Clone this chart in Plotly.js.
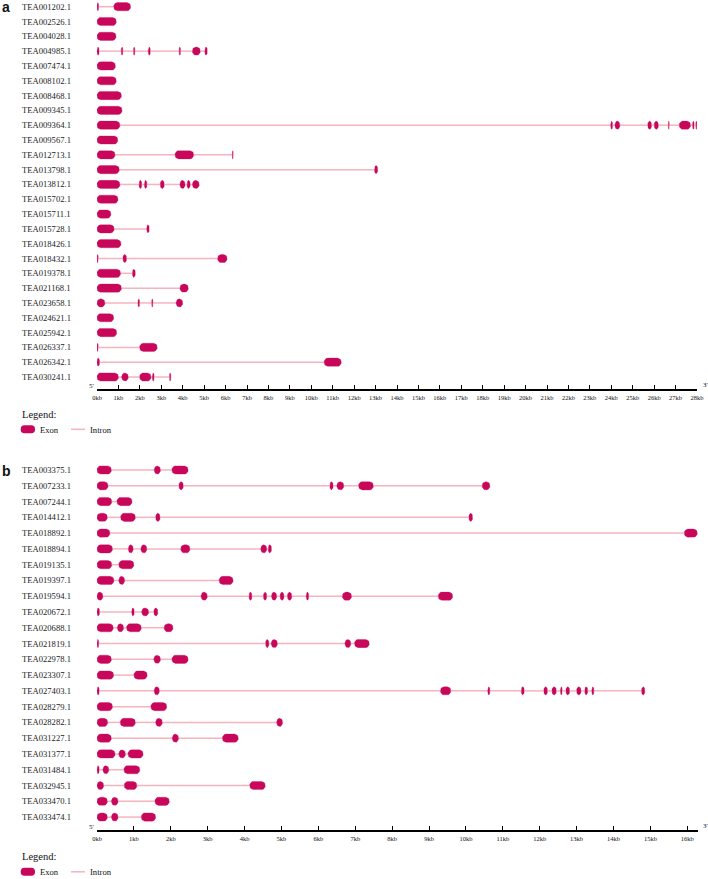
<!DOCTYPE html>
<html><head><meta charset="utf-8">
<script src="https://cdn.plot.ly/plotly-3.0.1.min.js"></script>
<style>html,body{margin:0;padding:0;background:#fff}</style>
</head><body><div id="chart" style="width:708px;height:879px"></div>
<script>
// ---------------- DATA ----------------
const genesA = ['TEA001202.1','TEA002526.1','TEA004028.1','TEA004985.1','TEA007474.1','TEA008102.1','TEA008468.1','TEA009345.1','TEA009364.1','TEA009567.1','TEA012713.1','TEA013798.1','TEA013812.1','TEA015702.1','TEA015711.1','TEA015728.1','TEA018426.1','TEA018432.1','TEA019378.1','TEA021168.1','TEA023658.1','TEA024621.1','TEA025942.1','TEA026337.1','TEA026342.1','TEA030241.1'];
// exon [start, end] in kb
const exonsA = [
  [[0,0.08],[0.78,1.57]],
  [[0,0.9]],
  [[0,0.89]],
  [[0,0.1],[1.13,1.21],[1.70,1.77],[2.39,2.49],[3.83,3.9],[4.45,4.82],[5.03,5.15]],
  [[0,0.86]],
  [[0,0.9]],
  [[0,1.14]],
  [[0,1.17]],
  [[0,1.07],[23.97,24.06],[24.17,24.4],[25.7,25.88],[26.0,26.2],[26.66,26.71],[27.17,27.7],[27.79,27.87],[27.94,28.0]],
  [[0,0.97]],
  [[0,0.84],[3.64,4.51],[6.31,6.36]],
  [[0,1.04],[12.95,13.1]],
  [[0,1.07],[1.96,2.09],[2.21,2.33],[2.95,3.14],[3.87,4.11],[4.2,4.35],[4.45,4.77]],
  [[0,0.98]],
  [[0,0.65]],
  [[0,0.8],[2.32,2.44]],
  [[0,1.12]],
  [[0,0.06],[1.21,1.38],[5.63,6.07]],
  [[0,1.1],[1.65,1.79]],
  [[0,1.14],[3.87,4.26]],
  [[0,0.37],[1.91,1.99],[2.55,2.61],[3.69,4.0]],
  [[0,0.78]],
  [[0,0.92]],
  [[0,0.06],[1.99,2.81]],
  [[0,0.12],[10.6,11.4]],
  [[0,1.0],[1.15,1.46],[1.99,2.52],[2.58,2.67],[3.38,3.45]]
];
const genesB = ['TEA003375.1','TEA007233.1','TEA007244.1','TEA014412.1','TEA018892.1','TEA018894.1','TEA019135.1','TEA019397.1','TEA019594.1','TEA020672.1','TEA020688.1','TEA021819.1','TEA022978.1','TEA023307.1','TEA027403.1','TEA028279.1','TEA028282.1','TEA031227.1','TEA031377.1','TEA031484.1','TEA032945.1','TEA033470.1','TEA033474.1'];
const exonsB = [
  [[0,0.39],[1.55,1.72],[2.03,2.47]],
  [[0,0.3],[2.22,2.34],[6.31,6.40],[6.5,6.69],[7.09,7.49],[10.44,10.65]],
  [[0,0.4],[0.54,0.95]],
  [[0,0.28],[0.64,1.04],[1.59,1.71],[10.08,10.18]],
  [[0,0.35],[15.92,16.27]],
  [[0,0.42],[0.85,0.98],[1.19,1.35],[2.27,2.52],[4.44,4.6],[4.64,4.73]],
  [[0,0.4],[0.59,1.0]],
  [[0,0.46],[0.59,0.75],[3.31,3.69]],
  [[0,0.16],[2.82,2.99],[4.12,4.2],[4.51,4.6],[4.73,4.87],[4.96,5.07],[5.16,5.28],[5.67,5.74],[6.65,6.9],[9.25,9.64]],
  [[0,0.07],[0.94,1.01],[1.21,1.4],[1.54,1.65]],
  [[0,0.44],[0.55,0.72],[0.8,1.2],[1.82,2.06]],
  [[0,0.05],[4.57,4.66],[4.72,4.89],[6.72,6.88],[6.98,7.38]],
  [[0,0.39],[1.54,1.72],[2.03,2.47]],
  [[0,0.45],[1.0,1.36]],
  [[0,0.06],[1.55,1.69],[9.31,9.59],[10.59,10.65],[11.5,11.58],[12.11,12.21],[12.33,12.45],[12.56,12.61],[12.71,12.81],[13.0,13.12],[13.22,13.3],[13.41,13.47],[14.76,14.85]],
  [[0,0.42],[1.46,1.89]],
  [[0,0.29],[0.63,1.04],[1.59,1.77],[4.87,5.03]],
  [[0,0.39],[2.04,2.21],[3.4,3.83]],
  [[0,0.49],[0.59,0.77],[0.84,1.25]],
  [[0,0.06],[0.16,0.32],[0.73,1.16]],
  [[0,0.18],[0.74,1.08],[4.14,4.56]],
  [[0,0.28],[0.39,0.57],[1.57,1.96]],
  [[0,0.28],[0.39,0.57],[1.2,1.59]]
];
const axisMaxA = 28, axisMaxB = 16.29;
const tickSuffix = 'kb';
const legendItems = ['Exon', 'Intron'];

// ---------------- STYLE / LAYOUT ----------------
const W = 708, H = 879;
const EXON = '#c8075b', INTRON = '#f6b4be';
const SERIF = 'Liberation Serif, Times New Roman, serif';
const SANS = 'Liberation Sans, Arial, sans-serif';
const px2x = p => p / W, px2y = p => 1 - p / H;

// pixel geometry
const xL = 97, xRA = 697, xRB = 698;
const aTop = 0, aBot = 389, aRange = [25.81, -0.453];
const bTop = 460, bBot = 830, bRange = [22.82, -0.634];
const HALF_H = 4.1, RAD = 3.6; // exon half-height and corner radius in px

function build(exons, xa, ya, kx, ky) {
  const ix = [], iy = [], ex_x = [], ex_y = [];
  const hy = HALF_H / ky;
  exons.forEach((ex, i) => {
    ex.forEach((p, j) => {
      const s = p[0], e = p[1];
      const rx = Math.min(RAD / kx, (e - s) / 2), ry = Math.min(RAD, HALF_H) / ky;
      const corners = [
        [e - rx, i - hy + ry, -90, 0],
        [e - rx, i + hy - ry, 0, 90],
        [s + rx, i + hy - ry, 90, 180],
        [s + rx, i - hy + ry, 180, 270]
      ];
      corners.forEach(c => {
        for (let k = 0; k <= 6; k++) {
          const t = (c[2] + (c[3] - c[2]) * k / 6) * Math.PI / 180;
          ex_x.push(c[0] + rx * Math.cos(t));
          ex_y.push(c[1] + ry * Math.sin(t));
        }
      });
      ex_x.push(ex_x[ex_x.length - 28]); ex_y.push(ex_y[ex_y.length - 28]);
      ex_x.push(null); ex_y.push(null);
      if (j > 0) { ix.push(ex[j - 1][1], p[0], null); iy.push(i, i, null); }
    });
  });
  return [
    {type: 'scatter', mode: 'lines', x: ix, y: iy, xaxis: xa, yaxis: ya, line: {color: INTRON, width: 1.5}, hoverinfo: 'skip', showlegend: false},
    {type: 'scatter', mode: 'lines', x: ex_x, y: ex_y, xaxis: xa, yaxis: ya, fill: 'toself', fillcolor: EXON,
      line: {color: EXON, width: 0.3}, connectgaps: false, hoverinfo: 'skip', showlegend: false}
  ];
}

const traces = [].concat(
  build(exonsA, 'x', 'y', (xRA - xL) / axisMaxA, (aBot - aTop) / (aRange[0] - aRange[1])),
  build(exonsB, 'x2', 'y2', (xRB - xL) / axisMaxB, (bBot - bTop) / (bRange[0] - bRange[1]))
);

function xaxisDef(dom, max, anchor) {
  return {domain: dom, range: [0, max], anchor: anchor, dtick: 1, tick0: 0, ticksuffix: tickSuffix,
    ticks: 'inside', ticklen: 4, tickwidth: 1, tickcolor: '#000',
    showline: true, linecolor: '#000', linewidth: 1.5, showgrid: false, zeroline: false,
    tickfont: {family: SERIF, size: 6.5, color: '#111'}, ticklabelstandoff: 2, fixedrange: true};
}
function yaxisDef(dom, rng, anchor) {
  return {domain: dom, range: rng, anchor: anchor, showgrid: false, zeroline: false, showline: false,
    showticklabels: false, ticks: '', fixedrange: true};
}

const ann = [];
function addLabels(genes, yref) {
  genes.forEach((g, i) => ann.push({xref: 'paper', yref: yref, x: px2x(20), y: i, text: g, showarrow: false,
    xanchor: 'left', yanchor: 'middle', font: {family: SERIF, size: 8.6, color: '#222'}}));
}
addLabels(genesA, 'y');
addLabels(genesB, 'y2');
function txt(t, x, y, size, fam, xanchor) {
  ann.push({xref: 'paper', yref: 'paper', x: px2x(x), y: px2y(y), text: t, showarrow: false,
    xanchor: xanchor || 'left', yanchor: 'middle', font: {family: fam, size: size, color: '#111'}});
}
txt('<b>a</b>', 0, 7, 14, SANS);
txt('<b>b</b>', 0, 470.5, 14, SANS);
txt("5'", 87, 386, 7, SERIF);
txt("3'", 701, 385, 7, SERIF);
txt("5'", 87, 827, 7, SERIF);
txt("3'", 701, 826, 7, SERIF);

const shapes = [];
function pill(x0, x1, y0, y1, r) {
  const P = (x, y) => px2x(x) + ',' + px2y(y);
  return 'M' + P(x0 + r, y0) + ' L' + P(x1 - r, y0) + ' Q' + P(x1, y0) + ' ' + P(x1, y0 + r) +
    ' L' + P(x1, y1 - r) + ' Q' + P(x1, y1) + ' ' + P(x1 - r, y1) + ' L' + P(x0 + r, y1) +
    ' Q' + P(x0, y1) + ' ' + P(x0, y1 - r) + ' L' + P(x0, y0 + r) + ' Q' + P(x0, y0) + ' ' + P(x0 + r, y0) + ' Z';
}
function legendBlock(yTitle, yItem) {
  txt('Legend:', 19.5, yTitle, 10.5, SERIF);
  shapes.push({type: 'path', xref: 'paper', yref: 'paper', path: pill(20.7, 35, yItem - 4, yItem + 4, 3.8),
    fillcolor: EXON, line: {width: 0}});
  txt(legendItems[0], 37.8, yItem + 0.3, 8.6, SERIF);
  shapes.push({type: 'line', xref: 'paper', yref: 'paper', x0: px2x(71), x1: px2x(85), y0: px2y(yItem), y1: px2y(yItem),
    line: {color: INTRON, width: 1.5}});
  txt(legendItems[1], 87.5, yItem + 0.3, 8.6, SERIF);
}
legendBlock(414.7, 429.3);
legendBlock(856.7, 871.8);

const layout = {
  width: W, height: H, margin: {l: 0, r: 0, t: 0, b: 0}, paper_bgcolor: '#fff', plot_bgcolor: '#fff',
  showlegend: false,
  xaxis: xaxisDef([xL / W, xRA / W], axisMaxA, 'y'),
  yaxis: yaxisDef([px2y(aBot), px2y(aTop)], aRange, 'x'),
  xaxis2: xaxisDef([xL / W, xRB / W], axisMaxB, 'y2'),
  yaxis2: yaxisDef([px2y(bBot), px2y(bTop)], bRange, 'x2'),
  annotations: ann, shapes: shapes
};
Plotly.newPlot('chart', traces, layout, {displayModeBar: false, staticPlot: true});
</script></body></html>
